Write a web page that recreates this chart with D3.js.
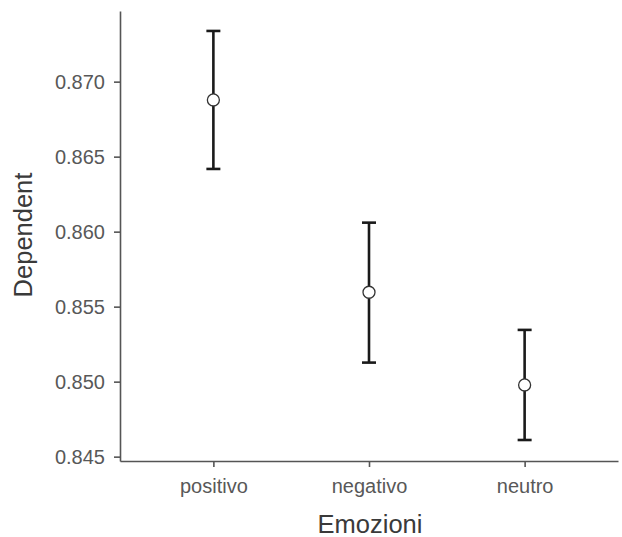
<!DOCTYPE html>
<html>
<head>
<meta charset="utf-8">
<script src="https://cdn.jsdelivr.net/npm/d3@7"></script>
<style>
  body { margin: 0; background: #fff; }
  text { font-family: "Liberation Sans", Arial, sans-serif; }
</style>
</head>
<body>
<div id="chart"></div>
<script>
const width = 622;
const height = 537;

// dati
const categories = ["positivo", "negativo", "neutro"];
const means = [0.86878, 0.85596, 0.84978];
const lower = [0.86418, 0.85127, 0.84611];
const upper = [0.87338, 0.86060, 0.85345];
const yTicks = [0.845, 0.850, 0.855, 0.860, 0.865, 0.870];

const rows = categories.map((c, i) => ({ cat: c, mean: means[i], lo: lower[i], hi: upper[i] }));

const svg = d3.select("#chart").append("svg")
  .attr("width", width)
  .attr("height", height);

// scale
const x = d3.scalePoint()
  .domain(categories)
  .range([120, 618])
  .padding(0.6);

const y = d3.scaleLinear()
  .domain([0.84471, 0.87471])
  .range([461, 11]);

// asse y
const yAxis = svg.append("g")
  .attr("transform", "translate(120,0)")
  .call(d3.axisLeft(y).tickValues(yTicks).tickFormat(d3.format(".3f"))
    .tickSizeInner(6).tickSizeOuter(0).tickPadding(9));

// asse x
const xAxis = svg.append("g")
  .attr("transform", "translate(0,461)")
  .call(d3.axisBottom(x).tickSizeInner(6).tickSizeOuter(0).tickPadding(12));

[yAxis, xAxis].forEach(a => {
  a.select(".domain").attr("stroke", "#555").attr("stroke-width", 1.6);
  a.selectAll(".tick line").attr("stroke", "#555").attr("stroke-width", 1.6);
  a.selectAll(".tick text")
    .attr("fill", "#585858")
    .style("font-size", "20px")
    .style("font-family", "'Liberation Sans', Arial, sans-serif");
});

// barre di errore
const g = svg.append("g");
g.selectAll("line.bar")
  .data(rows)
  .enter().append("line")
  .attr("class", "bar")
  .attr("x1", d => x(d.cat))
  .attr("x2", d => x(d.cat))
  .attr("y1", d => y(d.lo))
  .attr("y2", d => y(d.hi))
  .attr("stroke", "#1a1a1a")
  .attr("stroke-width", 2.6);

["lo", "hi"].forEach(k => {
  g.selectAll("line.cap-" + k)
    .data(rows)
    .enter().append("line")
    .attr("x1", d => x(d.cat) - 7)
    .attr("x2", d => x(d.cat) + 7)
    .attr("y1", d => y(d[k]))
    .attr("y2", d => y(d[k]))
    .attr("stroke", "#1a1a1a")
    .attr("stroke-width", 2.6);
});

// punti
g.selectAll("circle")
  .data(rows)
  .enter().append("circle")
  .attr("cx", d => x(d.cat))
  .attr("cy", d => y(d.mean))
  .attr("r", 6)
  .attr("fill", "#fff")
  .attr("stroke", "#333")
  .attr("stroke-width", 1.3);

// titoli assi
svg.append("text")
  .attr("x", 370)
  .attr("y", 533)
  .attr("text-anchor", "middle")
  .attr("fill", "#3a3a3a")
  .style("font-size", "25.5px")
  .text("Emozioni");

svg.append("text")
  .attr("transform", "translate(32,235) rotate(-90)")
  .attr("text-anchor", "middle")
  .attr("fill", "#3a3a3a")
  .style("font-size", "25.5px")
  .text("Dependent");
</script>
</body>
</html>
